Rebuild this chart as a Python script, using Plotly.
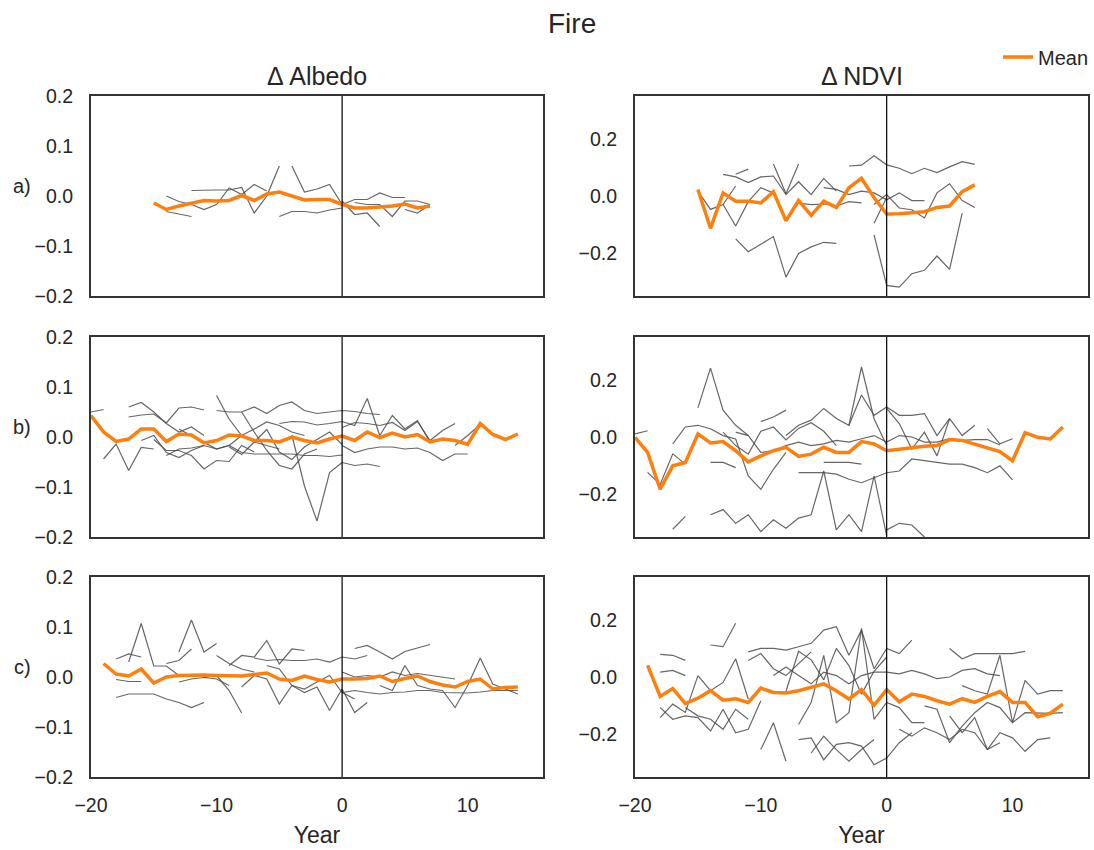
import plotly.graph_objects as go
from plotly.subplots import make_subplots

# ---------------------------------------------------------------------------
# Data: yearly anomalies relative to the fire year (year 0).
# Each site series is (first year, values for consecutive years).
# ---------------------------------------------------------------------------

albedo_a_mean_start = -15
albedo_a_mean = [-0.014, -0.027, -0.020, -0.014, -0.009, -0.010, -0.009, 0.001, -0.009, 0.004,
                 0.008, 0.000, -0.008, -0.007, -0.007, -0.017, -0.024, -0.024, -0.022, -0.020,
                 -0.016, -0.024, -0.020]
albedo_a_sites = [
    (-12, [0.011, 0.012, 0.012, 0.012, 0.017, -0.034, 0.000, 0.060]),
    (-14, [0.000, -0.011, -0.017, -0.027, -0.017, 0.016, 0.003, 0.023, 0.010]),
    (-14, [-0.031, -0.036, -0.041]),
    (-5, [-0.041, -0.031, -0.031, -0.034, -0.028, -0.024]),
    (-4, [0.060, 0.008, 0.014, 0.023, -0.017, -0.007, -0.007, 0.006, -0.003, -0.003]),
    (0, [-0.010, -0.037, -0.034, -0.061]),
    (1, [-0.013, -0.017, -0.017, -0.041, -0.010, -0.010, -0.017]),
    (5, [-0.027, -0.034, -0.017]),
]

ndvi_a_mean_start = -15
ndvi_a_mean = [0.023, -0.113, 0.011, -0.018, -0.018, -0.024, 0.015, -0.087, -0.016, -0.068,
               -0.018, -0.040, 0.029, 0.062, -0.006, -0.063, -0.062, -0.057, -0.055, -0.040,
               -0.035, 0.015, 0.039]
ndvi_a_sites = [
    (-12, [-0.150, -0.195, -0.169, -0.142, -0.284, -0.201, -0.178, -0.162, -0.166]),
    (-1, [-0.136, -0.313, -0.319, -0.272, -0.260, -0.210, -0.257, -0.060]),
    (-3, [0.105, 0.108, 0.141, 0.109, 0.097, 0.078, 0.097, 0.082, 0.102, 0.120, 0.111]),
    (-13, [0.076, 0.067, 0.047, 0.067, 0.070, 0.005, 0.050, 0.005, 0.062, 0.017]),
    (-12, [0.076, 0.094]),
    (-9, [0.112, 0.008, 0.112]),
    (-15, [0.017, -0.047, -0.030, 0.035]),
    (-13, [-0.030, -0.105, -0.020, 0.029, 0.010]),
    (-5, [0.029, 0.023, 0.005, 0.017, 0.011, -0.013, 0.011, -0.016, -0.016]),
    (-1, [-0.030, 0.005, -0.042, -0.048, -0.077, 0.011, 0.043, -0.016, -0.040]),
    (-7, [-0.025, -0.030, -0.028, -0.035, -0.020, -0.024]),
    (-1, [-0.095, -0.005]),
]

albedo_b_mean_start = -20
albedo_b_mean = [0.043, 0.010, -0.009, -0.004, 0.016, 0.016, -0.009, 0.006, 0.004, -0.012,
                 -0.007, 0.004, 0.002, -0.007, -0.007, -0.010, 0.000, -0.007, -0.012, -0.004,
                 0.002, -0.007, 0.010, -0.001, 0.008, 0.000, 0.005, -0.010, -0.004, -0.007,
                 -0.015, 0.027, 0.005, -0.005, 0.006]
albedo_b_sites = [
    (-20, [0.050, 0.055]),
    (-19, [-0.044, -0.014, -0.067, -0.021, -0.024]),
    (-17, [0.060, 0.069, 0.050, 0.027, 0.010, 0.020, 0.003]),
    (-17, [0.040, 0.044, 0.046, 0.028, 0.058, 0.060, 0.054]),
    (-15, [-0.005, -0.027, -0.027, -0.037, -0.064, -0.047, -0.049, -0.017, -0.030]),
    (-14, [-0.037, -0.024, -0.022, -0.017, -0.024, -0.017, -0.031, -0.034, -0.034, -0.034,
           -0.034, -0.037, -0.037, -0.039, -0.036]),
    (-10, [0.053, 0.050, 0.050, 0.060, 0.047, 0.063, 0.070, 0.053, 0.047, 0.050, 0.053,
           0.051, 0.047, 0.045]),
    (-10, [0.083, 0.036, 0.003, -0.010, -0.017, -0.024]),
    (-4, [0.004, -0.098, -0.168, -0.071, -0.051]),
    (-5, [0.027, 0.031, 0.030, 0.024, 0.027, 0.031, 0.023, 0.077, 0.003, 0.043, 0.016,
          0.033, -0.010]),
    (0, [0.019, 0.029, 0.027, 0.023, 0.029, 0.013, 0.031, -0.007, 0.013, 0.027]),
    (0, [-0.017, -0.031, -0.024, -0.020, -0.020, -0.024, -0.022, -0.031, -0.047, -0.034,
         -0.034]),
    (0, [-0.051, -0.057, -0.054, -0.059]),
    (9, [-0.017, 0.003, 0.025]),
    (-13, [0.016, 0.003, -0.010, -0.024, -0.017, 0.003, 0.016, 0.030, 0.023, 0.010, 0.003]),
    (-16, [-0.007, 0.003, -0.031, -0.041, -0.027, -0.017]),
    (-8, [0.050, 0.010, -0.027, -0.057, -0.064, -0.034, -0.024]),
    (-9, [-0.020, -0.035, -0.010, 0.015, -0.030, -0.045, -0.020, -0.005, 0.010, -0.015]),
]

ndvi_b_mean_start = -20
ndvi_b_mean = [-0.001, -0.054, -0.183, -0.101, -0.089, 0.011, -0.021, -0.016, -0.048, -0.087,
               -0.066, -0.048, -0.036, -0.068, -0.060, -0.036, -0.054, -0.054, -0.016, -0.024,
               -0.048, -0.042, -0.036, -0.032, -0.030, -0.009, -0.012, -0.024, -0.036, -0.051,
               -0.083, 0.015, -0.001, -0.007, 0.035]
ndvi_b_sites = [
    (-15, [0.102, 0.241, 0.094, 0.041, 0.005]),
    (-20, [0.011, 0.022]),
    (-19, [-0.124, -0.166, -0.059, -0.095]),
    (-17, [-0.024, 0.035, 0.041, 0.029, 0.005, -0.007, -0.136, -0.183, -0.113, -0.054]),
    (-17, [-0.323, -0.278]),
    (-14, [-0.272, -0.254, -0.302, -0.272, -0.331, -0.290, -0.319, -0.284, -0.272, -0.119,
           -0.325, -0.272, -0.331, -0.136, -0.345]),
    (0, [-0.325, -0.302, -0.308, -0.350]),
    (-10, [0.054, 0.070, 0.094]),
    (-12, [0.017, 0.005, -0.054, -0.048, -0.030, -0.018, -0.030, -0.024, -0.012, -0.018,
           -0.006, 0.005, -0.018, 0.005, 0.000, -0.018, -0.018, -0.006, -0.012, -0.009,
           -0.009, -0.028]),
    (-8, [0.005, 0.041, 0.059, 0.100, 0.065, 0.041, 0.147, 0.076, 0.105, 0.076, 0.076,
          0.082, 0.005, 0.064]),
    (-7, [-0.125, -0.125, -0.125, -0.130, -0.148, -0.160, -0.142, -0.125, -0.119, -0.077,
          -0.083, -0.089, -0.095, -0.095, -0.107, -0.125, -0.101, -0.150]),
    (-3, [0.041, 0.245, 0.064, -0.030]),
    (0, [0.100, 0.047, -0.042, 0.017, -0.066, 0.064, 0.005, 0.041]),
    (8, [0.029, -0.024, -0.006]),
    (-14, [-0.089, -0.089, -0.107]),
    (-13, [0.017, -0.030, -0.060, 0.020, 0.035, -0.010, 0.030, 0.050, 0.020, -0.030]),
    (-5, [-0.089, -0.089, -0.089, -0.095]),
]

albedo_c_mean_start = -19
albedo_c_mean = [0.027, 0.006, 0.002, 0.016, -0.012, 0.000, 0.003, 0.004, 0.004, 0.003,
                 0.002, 0.002, 0.005, 0.008, -0.004, -0.007, 0.002, -0.005, -0.010, -0.004,
                 -0.004, -0.003, 0.002, -0.009, -0.003, 0.002, -0.009, -0.016, -0.020, -0.009,
                 -0.004, -0.024, -0.021, -0.020]
albedo_c_sites = [
    (-18, [0.036, 0.046, 0.040]),
    (-17, [0.030, 0.107, 0.022, 0.022, 0.003]),
    (-13, [0.050, 0.114, 0.050, 0.067]),
    (-18, [-0.005, -0.009, -0.009]),
    (-18, [-0.041, -0.034, -0.034, -0.034, -0.044, -0.051, -0.061, -0.051]),
    (-14, [0.027, 0.033, 0.056]),
    (-13, [-0.010, -0.004, -0.001, -0.004, -0.017]),
    (-11, [-0.001, 0.003, -0.027, -0.072]),
    (-9, [0.023, 0.043, 0.040, 0.073, 0.026, 0.056, 0.053]),
    (-8, [-0.020, 0.003, -0.004, -0.054, -0.017, -0.031, -0.020, -0.067, -0.024, -0.071,
          -0.051]),
    (-7, [0.038, 0.033, 0.035, 0.033, 0.033, 0.036, 0.030, 0.040, 0.036, 0.043]),
    (0, [0.010, 0.000, 0.003, 0.000, 0.010, 0.003, 0.007, 0.003, 0.000, -0.004]),
    (1, [0.057, 0.063, 0.050, 0.036, 0.051, 0.058, 0.065]),
    (3, [-0.017, -0.027, 0.023, -0.017, -0.024, -0.027, -0.061, -0.017, 0.038, -0.014,
         -0.024, -0.034]),
    (0, [-0.031, -0.027, -0.031, -0.034, -0.031, -0.030, -0.027, -0.027, -0.031, -0.031,
         -0.032, -0.030, -0.027, -0.027, -0.027]),
    (-6, [0.023, 0.016, -0.017, -0.024, -0.010, 0.003, -0.031, -0.044]),
    (-10, [0.043, 0.027, 0.016, 0.010]),
]

ndvi_c_mean_start = -19
ndvi_c_mean = [0.041, -0.068, -0.040, -0.093, -0.074, -0.048, -0.081, -0.076, -0.089, -0.039,
               -0.054, -0.056, -0.048, -0.036, -0.024, -0.048, -0.077, -0.044, -0.099, -0.044,
               -0.087, -0.060, -0.068, -0.083, -0.095, -0.076, -0.089, -0.068, -0.051, -0.089,
               -0.089, -0.139, -0.127, -0.095]
ndvi_c_sites = [
    (-14, [0.112, 0.106, 0.188]),
    (-18, [0.079, 0.076, 0.058]),
    (-18, [0.017, 0.023, 0.005]),
    (-18, [-0.142, -0.095, -0.124, 0.005, -0.048, -0.019, 0.064, -0.077]),
    (-18, [-0.107, -0.148, -0.136, -0.142, -0.189, -0.113, -0.195, -0.183, -0.083]),
    (-11, [0.088, 0.100, 0.100, 0.094, 0.106, 0.118, 0.164, 0.176, 0.076, 0.164, 0.029,
           0.100, 0.082, 0.129]),
    (-11, [0.058, 0.082, 0.029, 0.005, 0.047, 0.088]),
    (-10, [-0.254, -0.160, -0.295]),
    (-7, [-0.219, -0.213, -0.290, -0.236, -0.230, -0.242, -0.307, -0.284, -0.230, -0.195]),
    (0, [0.017, 0.011, 0.023, 0.011, -0.006, 0.000, 0.023, 0.029, 0.011, 0.005]),
    (5, [0.100, 0.064, 0.082, 0.082, 0.082, 0.082, 0.090]),
    (5, [-0.136, -0.195, -0.142, -0.254, -0.195, -0.213, -0.260, -0.219, -0.213]),
    (6, [-0.030, -0.048, -0.060, 0.076, -0.160, -0.012, -0.060, -0.048, -0.048]),
    (3, [-0.101, -0.113, -0.230, -0.172, -0.125, -0.089, -0.107, -0.160, -0.125, -0.127,
         -0.127, -0.125]),
    (-7, [-0.166, -0.089, 0.076, -0.160, -0.125, 0.170, -0.148, -0.089, -0.107, -0.160,
          -0.160]),
    (-16, [-0.107, -0.136, -0.148, -0.183, -0.113, -0.148]),
    (-9, [0.005, 0.035, 0.005, -0.024, 0.017, 0.005, -0.024, 0.005, 0.017, 0.017]),
    (-6, [-0.266, -0.207, -0.254, -0.295, -0.254, -0.219]),
    (1, [-0.183, -0.207, -0.178, -0.195, -0.219, -0.183, -0.195, -0.254, -0.230]),
    (-8, [-0.050, 0.090, 0.060, -0.010, 0.100, 0.040, -0.060, 0.020, 0.070]),
]

column_titles = ["Δ Albedo", "Δ NDVI"]
row_labels = ["a)", "b)", "c)"]
x_ticks = [-20, -10, 0, 10]
albedo_ticks = [-0.2, -0.1, 0.0, 0.1, 0.2]
ndvi_ticks = [-0.2, 0.0, 0.2]

panels = [
    [(albedo_a_mean_start, albedo_a_mean, albedo_a_sites),
     (ndvi_a_mean_start, ndvi_a_mean, ndvi_a_sites)],
    [(albedo_b_mean_start, albedo_b_mean, albedo_b_sites),
     (ndvi_b_mean_start, ndvi_b_mean, ndvi_b_sites)],
    [(albedo_c_mean_start, albedo_c_mean, albedo_c_sites),
     (ndvi_c_mean_start, ndvi_c_mean, ndvi_c_sites)],
]

# ---------------------------------------------------------------------------
W, H = 1094, 850
FONT = "Liberation Sans, Arial, sans-serif"
TXT = "#262626"
GRAY = "rgba(75,75,75,0.85)"
ORANGE = "#ff7f0e"

fig = make_subplots(rows=3, cols=2)

col_px = [(91, 543), (635, 1088)]
row_px = [(96, 296), (337, 537), (577, 777)]


def years(start, n):
    return list(range(start, start + n))


legend_done = False
for r in range(3):
    for c in range(2):
        start, mean, sites = panels[r][c]
        for s0, vals in sites:
            fig.add_trace(go.Scatter(x=years(s0, len(vals)), y=vals, mode="lines",
                                     line=dict(color=GRAY, width=1.2),
                                     showlegend=False, hoverinfo="skip"),
                          row=r + 1, col=c + 1)
        fig.add_trace(go.Scatter(x=years(start, len(mean)), y=mean, mode="lines",
                                 name="Mean", line=dict(color=ORANGE, width=3.5),
                                 showlegend=not legend_done),
                      row=r + 1, col=c + 1)
        legend_done = True
        fig.add_vline(x=0, line=dict(color="black", width=1.2), row=r + 1, col=c + 1)

        idx = r * 2 + c + 1
        xa = "xaxis" if idx == 1 else f"xaxis{idx}"
        ya = "yaxis" if idx == 1 else f"yaxis{idx}"
        x0, x1 = col_px[c]
        y0, y1 = row_px[r]
        fig.layout[xa].update(
            domain=[x0 / W, x1 / W], range=[-20, 16], tickvals=x_ticks,
            showticklabels=(r == 2), showgrid=False, zeroline=False,
            showline=True, mirror=True, linecolor="#333333", linewidth=2,
            ticks="", ticklabelstandoff=10,
            tickfont=dict(family=FONT, size=19.5, color=TXT),
            title=dict(text="Year" if r == 2 else "", standoff=11,
                       font=dict(family=FONT, size=23, color=TXT)),
        )
        if c == 0:
            yr, yt = [-0.2, 0.2], albedo_ticks
        else:
            yr, yt = [-0.35, 0.35], ndvi_ticks
        fig.layout[ya].update(
            domain=[1 - y1 / H, 1 - y0 / H], range=yr, tickvals=yt, tickformat=".1f",
            showgrid=False, zeroline=False, showline=True, mirror=True,
            linecolor="#333333", linewidth=2, ticks="", ticklabelstandoff=12,
            tickfont=dict(family=FONT, size=19.5, color=TXT),
        )

annotations = [
    dict(text="Fire", x=572 / W, y=1 - 23 / H, xref="paper", yref="paper",
         showarrow=False, font=dict(family=FONT, size=28, color=TXT),
         xanchor="center", yanchor="middle"),
]
for c, title in enumerate(column_titles):
    x0, x1 = col_px[c]
    annotations.append(dict(text=title, x=(x0 + x1) / 2 / W, y=1 - 76 / H,
                            xref="paper", yref="paper", showarrow=False,
                            font=dict(family=FONT, size=25, color=TXT),
                            xanchor="center", yanchor="middle"))
for r, lab in enumerate(row_labels):
    y0, y1 = row_px[r]
    annotations.append(dict(text=lab, x=22 / W, y=1 - (y0 + 90) / H,
                            xref="paper", yref="paper", showarrow=False,
                            font=dict(family=FONT, size=20, color=TXT),
                            xanchor="center", yanchor="middle"))

fig.update_layout(
    width=W, height=H,
    margin=dict(l=0, r=0, t=0, b=0, autoexpand=False),
    paper_bgcolor="white", plot_bgcolor="white",
    font=dict(family=FONT, color=TXT),
    annotations=annotations,
    showlegend=True,
    legend=dict(x=1.0, y=1 - 57 / H, xanchor="right", yanchor="middle",
                bgcolor="rgba(0,0,0,0)", font=dict(family=FONT, size=20, color=TXT)),
)

fig.write_html("out.html")
